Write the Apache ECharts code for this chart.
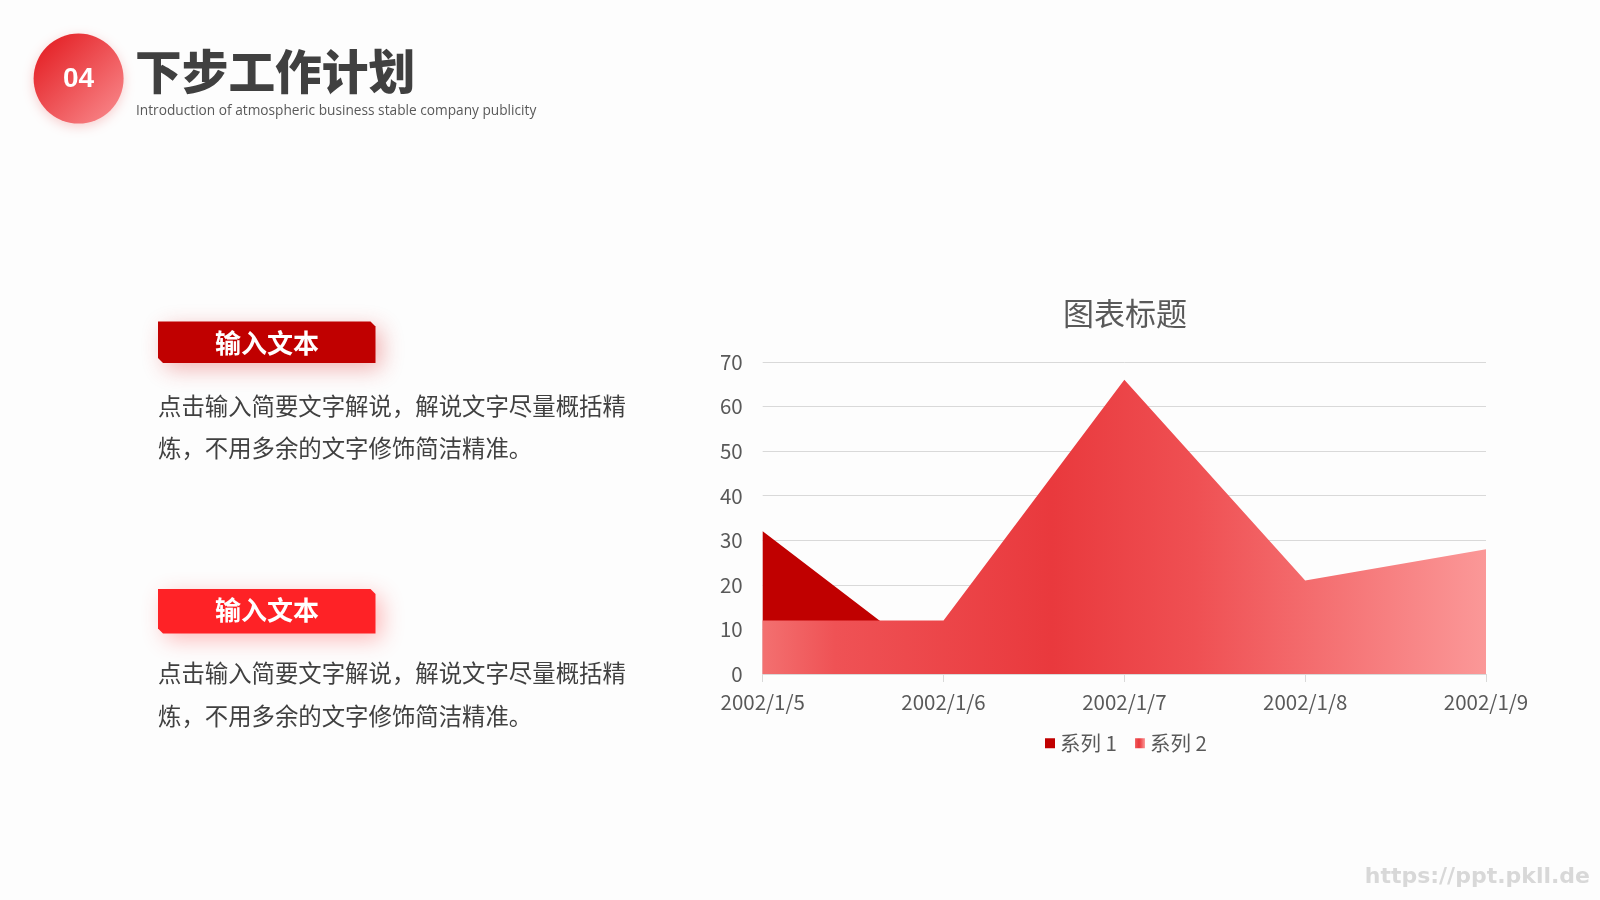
<!DOCTYPE html>
<html>
<head>
<meta charset="utf-8">
<script src="https://cdn.jsdelivr.net/npm/echarts@6/dist/echarts.min.js"></script>
<style>
html,body{margin:0;padding:0;background:#fdfdfd;}
#main{width:1600px;height:900px;}
</style>
</head>
<body>
<div id="main"></div>
<script>
// ---- data ----
var categories = ['2002/1/5', '2002/1/6', '2002/1/7', '2002/1/8', '2002/1/9'];
var series1Values = [32, 1, 28, 12, 15];
var series2Values = [12, 12, 66, 21, 28];
var seriesNames = ['系列 1', '系列 2'];
var chartTitle = '图表标题';
var yTicks = { min: 0, max: 70, interval: 10 };
var headerNumber = '04';
var headerTitle = '下步工作计划';
var headerSubtitle = 'Introduction of atmospheric business stable company publicity';
var boxLabels = ['输入文本', '输入文本'];
var paragraphLines = ['点击输入简要文字解说，解说文字尽量概括精', '炼，不用多余的文字修饰简洁精准。'];
var watermark = 'https://ppt.pkll.de';

var CJK = '"Noto Sans CJK SC", "Noto Sans", sans-serif';
var chart = echarts.init(document.getElementById('main'), null, { renderer: 'canvas' });

var grad2 = new echarts.graphic.LinearGradient(0, 0, 1, 0, [
  { offset: 0, color: '#F37070' },
  { offset: 0.1, color: '#EF5255' },
  { offset: 0.4, color: '#E9393D' },
  { offset: 0.6, color: '#EF5053' },
  { offset: 1, color: '#FB9898' }
]);

function box(x, y, w, h, c, fill, shadow) {
  return {
    type: 'polygon',
    shape: { points: [[x, y], [x + w - c, y], [x + w, y + c], [x + w, y + h], [x + c, y + h], [x, y + h - c]] },
    style: { fill: fill, shadowBlur: 22, shadowColor: shadow, shadowOffsetX: 6, shadowOffsetY: 6 }
  };
}
function txt(x, y, text, size, color, weight, align, family) {
  return {
    type: 'text', x: x, y: y,
    style: { text: text, fontSize: size, fill: color, fontWeight: weight || 'normal',
      align: align || 'left', verticalAlign: 'middle', fontFamily: family || CJK }
  };
}

var graphics = [
  {
    type: 'circle', shape: { cx: 78.6, cy: 78.6, r: 45 },
    style: {
      fill: new echarts.graphic.LinearGradient(0, 0, 1, 1, [
        { offset: 0, color: '#E2161B' }, { offset: 1, color: '#FA8E91' }
      ]),
      shadowBlur: 12, shadowColor: 'rgba(230,60,60,0.25)', shadowOffsetY: 3
    }
  },
  txt(78.6, 79.5, headerNumber, 28, '#ffffff', 'bold', 'center', '"Liberation Sans", Arial, sans-serif'),
  txt(135, 71, headerTitle, 46.7, '#404040', 900),
  txt(136, 111, headerSubtitle, 13.7, '#595959', 'normal', 'left', '"Open Sans", "Noto Sans", sans-serif'),
  box(158, 321.5, 217.5, 41.5, 5, '#C00000', 'rgba(220,40,40,0.35)'),
  txt(267, 343, boxLabels[0], 26, '#ffffff', 'bold', 'center'),
  txt(158, 406, paragraphLines[0], 23.4, '#404040'),
  txt(158, 448, paragraphLines[1], 23.4, '#404040'),
  box(158, 589, 217.5, 44.5, 5, '#FE2226', 'rgba(255,60,60,0.35)'),
  txt(267, 610, boxLabels[1], 26, '#ffffff', 'bold', 'center'),
  txt(158, 673.5, paragraphLines[0], 23.4, '#404040'),
  txt(158, 716, paragraphLines[1], 23.4, '#404040'),
  txt(1590, 877, watermark, 22, '#D8D8D8', 'bold', 'right', '"DejaVu Sans", sans-serif')
];

var option = {
  backgroundColor: '#fdfdfd',
  animation: false,
  title: {
    text: chartTitle, left: 1120, top: 293, textAlign: 'center',
    textStyle: { fontSize: 31, fontWeight: 'normal', color: '#595959', fontFamily: CJK }
  },
  legend: {
    data: seriesNames, left: 1040, top: 728, icon: 'rect', itemWidth: 10, itemHeight: 10,
    itemGap: 18, selectedMode: false,
    textStyle: { fontSize: 20.5, color: '#595959', fontFamily: CJK }
  },
  grid: { left: 762.7, right: 114, top: 362, bottom: 226, containLabel: false },
  xAxis: {
    type: 'category', data: categories, boundaryGap: false,
    axisLine: { lineStyle: { color: '#D9D9D9', width: 1 } },
    axisTick: { show: true, length: 8, lineStyle: { color: '#D9D9D9' } },
    axisLabel: { fontSize: 20.5, color: '#595959', margin: 18, fontFamily: CJK }
  },
  yAxis: {
    type: 'value', min: yTicks.min, max: yTicks.max, interval: yTicks.interval,
    axisLine: { show: false }, axisTick: { show: false },
    axisLabel: { fontSize: 20.5, color: '#595959', margin: 20, fontFamily: CJK },
    splitLine: { lineStyle: { color: '#D9D9D9', width: 1 } }
  },
  series: [
    {
      name: seriesNames[0], type: 'line', data: series1Values, showSymbol: false, symbol: 'none',
      itemStyle: { color: '#C00000' }, lineStyle: { width: 0 },
      areaStyle: { color: '#C00000', opacity: 1 }, z: 2
    },
    {
      name: seriesNames[1], type: 'line', data: series2Values, showSymbol: false, symbol: 'none',
      itemStyle: { color: grad2 }, lineStyle: { width: 0 },
      areaStyle: { color: grad2, opacity: 1 }, z: 3
    }
  ],
  graphic: graphics
};
chart.setOption(option);
</script>
</body>
</html>
